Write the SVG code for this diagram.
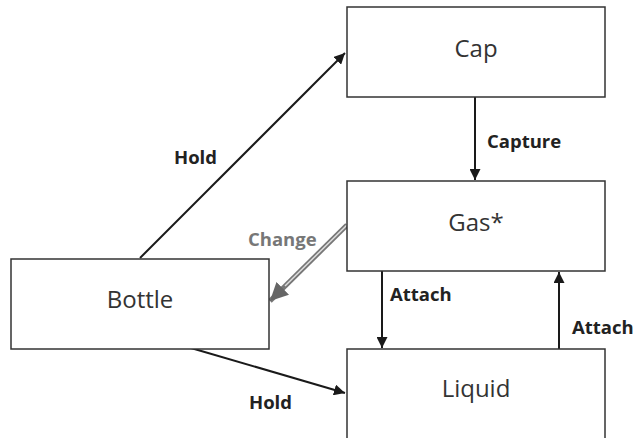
<svg xmlns="http://www.w3.org/2000/svg" width="636" height="438" viewBox="0 0 636 438">
  <style>
    .box { fill: #fff; stroke: #333; stroke-width: 1.5; }
    .name { font-family: "Open Sans", "Liberation Sans", sans-serif; font-size: 24px; fill: #333; text-anchor: middle; }
    .lbl { font-family: "Open Sans", "Liberation Sans", sans-serif; font-size: 18.5px; font-weight: bold; fill: #222; }
    .edge { stroke: #1a1a1a; stroke-width: 2; fill: none; }
  </style>
  <defs>
    <marker id="ah" viewBox="0 0 10 10" refX="10" refY="5" markerWidth="5.5" markerHeight="5.5" orient="auto" markerUnits="strokeWidth">
      <path d="M0,0 L10,5 L0,10 z" fill="#1a1a1a"/>
    </marker>
    <marker id="ahg" viewBox="0 0 10 10" refX="10" refY="5" markerWidth="3.6" markerHeight="3.6" orient="auto" markerUnits="strokeWidth">
      <path d="M0,0 L10,5 L0,10 z" fill="#666"/>
    </marker>
  </defs>

  <!-- connectors -->
  <g id="connectors">
    <line class="edge" x1="140" y1="258" x2="345" y2="53" marker-end="url(#ah)"/>
    <line class="edge" x1="475" y1="97" x2="475" y2="180" marker-end="url(#ah)"/>
    <line class="edge" x1="382" y1="271" x2="382" y2="348" marker-end="url(#ah)"/>
    <line class="edge" x1="559" y1="349" x2="559" y2="272" marker-end="url(#ah)"/>
    <line class="edge" x1="191" y1="348" x2="345" y2="393" marker-end="url(#ah)"/>
    <!-- double-stroked grey arrow -->
    <line x1="347" y1="225" x2="270" y2="301" stroke="#777" stroke-width="5" marker-end="url(#ahg)"/>
    <line x1="347" y1="225" x2="285" y2="286" stroke="#ddd" stroke-width="1.5"/>
    <text class="lbl" x="174" y="164">Hold</text>
    <text class="lbl" x="487" y="148">Capture</text>
    <text class="lbl" x="248" y="246" style="fill:#777">Change</text>
    <text class="lbl" x="390" y="301">Attach</text>
    <text class="lbl" x="572" y="334">Attach</text>
    <text class="lbl" x="249" y="409">Hold</text>
  </g>

  <g id="cap">
    <rect class="box" x="347" y="7" width="258" height="90"/>
    <text class="name" x="476" y="57">Cap</text>
  </g>
  <g id="gas">
    <rect class="box" x="347" y="181" width="258" height="90"/>
    <text class="name" x="476" y="231">Gas*</text>
  </g>
  <g id="bottle">
    <rect class="box" x="11" y="259" width="258" height="90"/>
    <text class="name" x="140" y="308">Bottle</text>
  </g>
  <g id="liquid">
    <rect class="box" x="347" y="349" width="258" height="90"/>
    <text class="name" x="476" y="397">Liquid</text>
  </g>
</svg>
